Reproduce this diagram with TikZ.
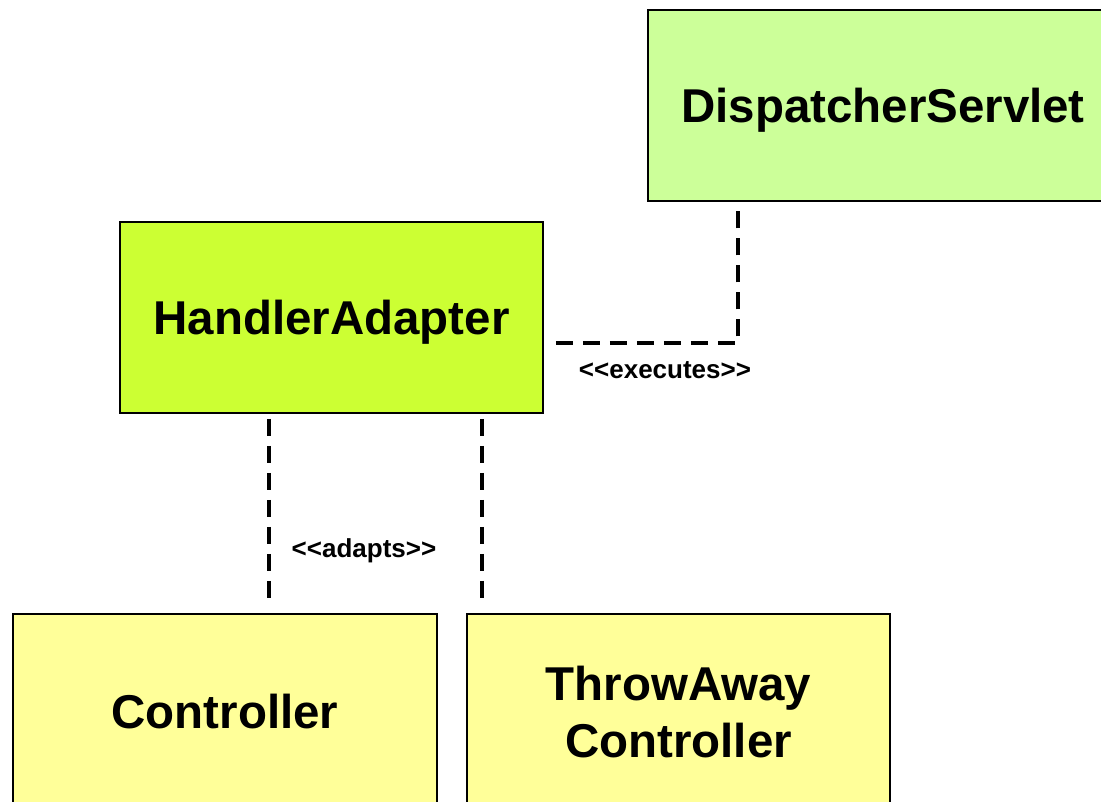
\documentclass[tikz,border=0pt]{standalone}
\usepackage{fontspec}
\setmainfont{Liberation Sans}
\usetikzlibrary{calc}
\definecolor{dsgreen}{HTML}{CCFF99}
\definecolor{hagreen}{HTML}{CCFF33}
\definecolor{ctyellow}{HTML}{FFFF99}
\tikzset{
  box/.style={draw=black, line width=1.3pt, inner sep=0pt, align=center,
    font=\fontsize{35.6}{42.75}\selectfont\bfseries},
  capbox/.style={box, text height=25.5pt, text depth=0pt},
  dep/.style={draw=black, line width=3pt, dash pattern=on 12.75pt off 7.5pt},
  lbl/.style={font=\fontsize{19.5}{22}\selectfont\bfseries, inner sep=0pt}
}
\begin{document}
\begin{tikzpicture}[x=0.75pt,y=-0.75pt]
\useasboundingbox (0,0) rectangle (1101,802);
\clip (0,0) rectangle (1101,802);
\fill[white] (0,0) rectangle (1101,802);
\node[capbox, fill=dsgreen, minimum width=352.5pt, minimum height=143.25pt] (ds) at (883,105.5) {DispatcherServlet};
\node[capbox, fill=hagreen, minimum width=317.25pt, minimum height=143.25pt] (ha) at (331.5,317.5) {HandlerAdapter};
\node[box, fill=ctyellow, minimum width=318pt, minimum height=147pt] (ct) at (225,712) {Controller};
\node[box, fill=ctyellow, minimum width=317.25pt, minimum height=147pt] (tc) at (678.5,712) {ThrowAway\\Controller};
\coordinate (exs) at ($(ha.east)+(12,25.5)$);
\coordinate (exe) at ($(ds.south west)+(91,5)$);
\draw[dep] (exs) -| (exe);
\draw[dep] ($(ha.south west)+(150,5)$) -- ($(ct.north west)+(257,-14)$);
\draw[dep] ($(ha.south west)+(363,5)$) -- ($(tc.north west)+(16,-14)$);
\node[lbl] (lex) at (665,370) {<\kern0pt<\kern0pt executes>\kern0pt>};
\node[lbl] (lad) at (364,551) {<\kern0pt<\kern0pt adapts>\kern0pt>};
\end{tikzpicture}
\end{document}
